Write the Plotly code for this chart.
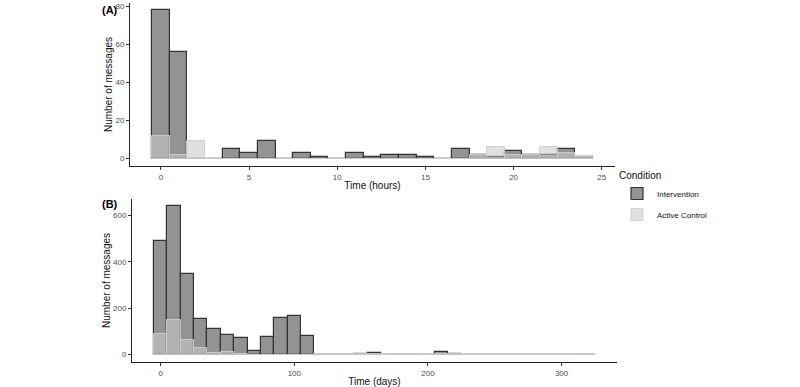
import plotly.graph_objects as go

# Panel A: hourly bins (centres), counts
hours = list(range(0, 25))
int_hours = [78, 56, 0, 0, 5, 3, 9, 0, 3, 1, 0, 3, 1, 2, 2, 1, 0, 5, 2, 1, 4, 2, 2, 5, 1]
ctl_hours = [12, 2, 9, 0, 0, 0, 0, 0, 0, 0, 0, 0, 0, 0, 0, 0, 0, 0, 2, 6, 2, 2, 6, 3, 1]

# Panel B: 10-day bins (centres), counts
days = list(range(0, 330, 10))
int_days = [490, 640, 350, 154, 109, 85, 72, 17, 76, 158, 165, 82, 0, 0, 0, 2, 8, 0, 0, 0, 0, 12, 4,
            0, 0, 0, 0, 0, 0, 0, 0, 0, 0]
ctl_days = [90, 151, 63, 27, 8, 12, 3, 0, 0, 0, 0, 0, 2, 3, 3, 3, 3, 0, 3, 3, 0, 2, 4,
            0, 0, 0, 0, 0, 0, 0, 0, 0, 4]

x_ticks_a = [0, 5, 10, 15, 20, 25]
y_ticks_a = [0, 20, 40, 60, 80]
x_ticks_b = [0, 100, 200, 300]
y_ticks_b = [0, 200, 400, 600]

W, H = 800, 387
INT_FILL = "#939393"
INT_LINE = "#333333"
CTL_FILL = "rgba(202,202,202,0.58)"
CTL_LINE = "rgba(205,205,205,0.9)"

fig = go.Figure()
fig.add_trace(go.Bar(x=hours, y=int_hours, width=1, name="Intervention",
                     marker=dict(color=INT_FILL, line=dict(color=INT_LINE, width=1.2)),
                     xaxis="x", yaxis="y", legendgroup="i"))
fig.add_trace(go.Bar(x=hours, y=ctl_hours, width=1, name="Active Control",
                     marker=dict(color=CTL_FILL, line=dict(color=CTL_LINE, width=1)),
                     xaxis="x", yaxis="y", legendgroup="c"))
fig.add_trace(go.Bar(x=days, y=int_days, width=10, name="Intervention", showlegend=False,
                     marker=dict(color=INT_FILL, line=dict(color=INT_LINE, width=1.2)),
                     xaxis="x2", yaxis="y2", legendgroup="i"))
fig.add_trace(go.Bar(x=days, y=ctl_days, width=10, name="Active Control", showlegend=False,
                     marker=dict(color=CTL_FILL, line=dict(color=CTL_LINE, width=1)),
                     xaxis="x2", yaxis="y2", legendgroup="c"))

axis_common = dict(showgrid=False, zeroline=False, showline=True, linecolor="#222222", linewidth=1,
                   ticks="outside", ticklen=3, tickcolor="#333333", tickwidth=1,
                   tickfont=dict(size=8, color="#4d4d4d", family="Liberation Sans, Arial"))
title_font = dict(size=10, color="#111111", family="Liberation Sans, Arial")

xa0, xa1 = 130 / W, 615 / W
xb0, xb1 = 132 / W, 617 / W

fig.update_layout(
    width=W, height=H, margin=dict(l=0, r=0, t=0, b=0),
    paper_bgcolor="white", plot_bgcolor="white",
    barmode="overlay", bargap=0,
    font=dict(family="Liberation Sans, Arial", color="#111111"),
    xaxis=dict(domain=[xa0, xa1], anchor="y", range=[-1.75, 25.75], tickvals=x_ticks_a,
               title=dict(text="Time (hours)", font=title_font, standoff=1), **axis_common),
    yaxis=dict(domain=[1 - 166 / H, 1 - 3 / H], anchor="x", range=[-3.9, 81.9], tickvals=y_ticks_a,
               title=dict(text="Number of messages", font=title_font, standoff=0), **axis_common),
    xaxis2=dict(domain=[xb0, xb1], anchor="y2", range=[-21.5, 341.5], tickvals=x_ticks_b,
                title=dict(text="Time (days)", font=title_font, standoff=1), **axis_common),
    yaxis2=dict(domain=[1 - 362 / H, 1 - 199 / H], anchor="x2", range=[-32, 672], tickvals=y_ticks_b,
                title=dict(text="Number of messages", font=title_font, standoff=0), **axis_common),
    legend=dict(x=617 / W, y=1 - 166 / H, xanchor="left", yanchor="top",
                title=dict(text="Condition", font=dict(size=10, color="#111111")),
                font=dict(size=8, color="#111111"), bgcolor="rgba(0,0,0,0)",
                itemwidth=30, tracegroupgap=2),
    annotations=[
        dict(text="<b>(A)</b>", x=100 / W, y=1 - 2 / H, xref="paper", yref="paper",
             xanchor="left", yanchor="top", showarrow=False, font=dict(size=11, color="#000000")),
        dict(text="<b>(B)</b>", x=100 / W, y=1 - 196 / H, xref="paper", yref="paper",
             xanchor="left", yanchor="top", showarrow=False, font=dict(size=11, color="#000000")),
    ],
)

fig.write_html("out.html", config={"displayModeBar": False},
               post_script="document.body.style.margin='0';document.body.style.padding='0';"
                           "document.documentElement.style.overflow='hidden';")
